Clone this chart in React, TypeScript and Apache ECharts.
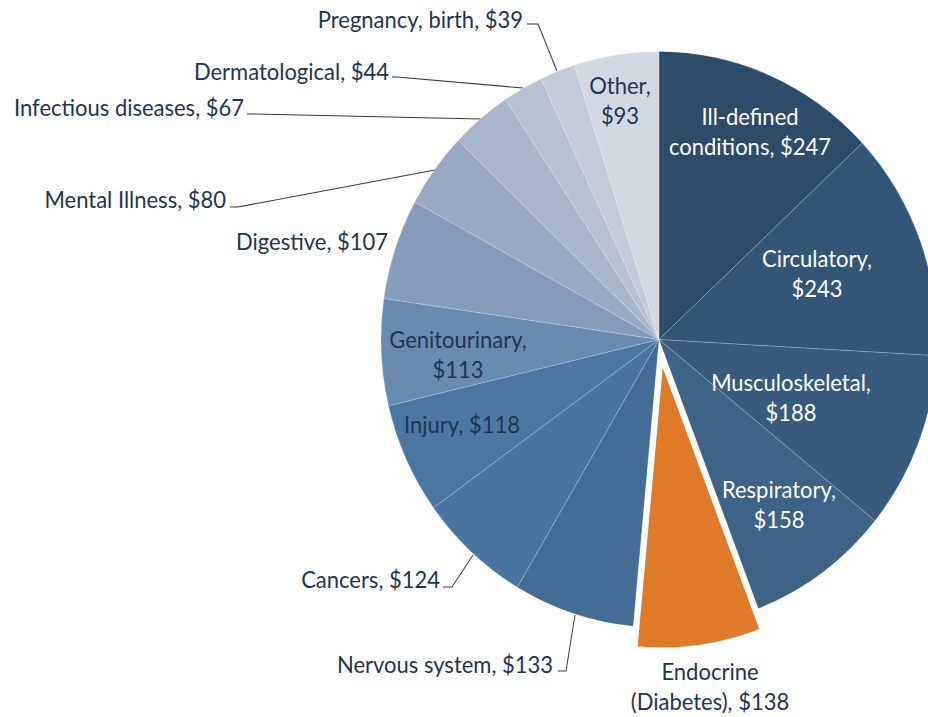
import { useEffect, useRef } from "react";
import * as echarts from "echarts";

// ---- data ----
const categories = [
  "Ill-defined conditions",
  "Circulatory",
  "Musculoskeletal",
  "Respiratory",
  "Endocrine (Diabetes)",
  "Nervous system",
  "Cancers",
  "Injury",
  "Genitourinary",
  "Digestive",
  "Mental Illness",
  "Infectious diseases",
  "Dermatological",
  "Pregnancy, birth",
  "Other",
];
const values = [247, 243, 188, 158, 138, 133, 124, 118, 113, 107, 80, 67, 44, 39, 93];
const highlighted = "Endocrine (Diabetes)";

// ---- styling / layout ----
const colors = [
  "#2E4B68", "#345676", "#385B7D", "#3D6386", "#DF7B28",
  "#436D94", "#4A77A2", "#4B78A3", "#6A8BB0", "#879CBA",
  "#9AAAC2", "#A9B6CA", "#B6C1D3", "#C4CCDA", "#D3D9E3",
];
const whiteText = [true, true, true, true, false, false, false, false, false, false, false, false, false, false, false];
// how each label is broken into lines: "name" = after first word, "comma" = before value, "none" = one line
const labelBreak = ["name", "comma", "comma", "comma", "name", "none", "none", "none", "comma", "none", "none", "none", "none", "none", "comma"];
// label anchor points (page pixels) and alignment
const labelAnchor: [number, number, "center" | "right"][] = [
  [750, 131, "center"],
  [817, 273, "center"],
  [791, 397, "center"],
  [779, 504, "center"],
  [710, 686, "center"],
  [553, 664, "right"],
  [440, 579, "right"],
  [462, 424, "center"],
  [458, 354, "center"],
  [388, 241, "right"],
  [226, 199, "right"],
  [244, 107, "right"],
  [389, 71, "right"],
  [523, 19, "right"],
  [620, 100, "center"],
];
// leader lines (page pixels) for outside labels
const leader: (number[][] | null)[] = [
  null, null, null, null, null,
  [[575, 615], [566, 671], [558, 671]],
  [[473, 555], [452, 587], [443, 587]],
  null, null, null,
  [[435, 170], [238, 207], [230, 207]],
  [[481, 119], [252, 114], [247, 114]],
  [[523, 88], [397, 77], [392, 77]],
  [[557, 71], [538, 24], [527, 24]],
  null,
];

const SY = 1.036; // vertical stretch of the picture
const W = 928;
const H = Math.round(717 / SY);
const CX = 659;
const CY = 339.5 / SY;
const R = 278;
const EXPLODE = 21;

function labelText(i: number): string {
  const name = categories[i];
  const v = "$" + values[i];
  if (labelBreak[i] === "name") {
    const k = name.indexOf(" ");
    return name.slice(0, k) + "\n" + name.slice(k + 1) + ", " + v;
  }
  if (labelBreak[i] === "comma") return name + ",\n" + v;
  return name + ", " + v;
}

export default function App() {
  const ref = useRef<HTMLDivElement>(null);
  useEffect(() => {
    const chart = echarts.init(ref.current!, null, { renderer: "svg" });
    const hiIdx = categories.indexOf(highlighted);
    const total = values.reduce((a, b) => a + b, 0);
    const before = values.slice(0, hiIdx).reduce((a, b) => a + b, 0);
    const mid = ((before + values[hiIdx] / 2) / total) * 2 * Math.PI;
    const ox = EXPLODE * Math.sin(mid);
    const oy = -EXPLODE * Math.cos(mid);

    const hidden = {
      itemStyle: { color: "rgba(0,0,0,0)", borderWidth: 0 },
      label: { show: false },
      labelLine: { show: false },
    };

    const dataMain = categories.map((name, i) =>
      i === hiIdx
        ? { name, value: values[i], ...hidden }
        : {
            name,
            value: values[i],
            itemStyle: {
              color: colors[i],
              borderColor: "rgba(255,255,255,0.3)",
              borderWidth: 0.6,
            },
            label: { color: whiteText[i] ? "#ffffff" : "#1F3550" },
            labelLine: { show: leader[i] != null },
          }
    );
    const dataHi = categories.map((name, i) =>
      i === hiIdx
        ? {
            name,
            value: values[i],
            itemStyle: { color: colors[i], borderColor: "#ffffff", borderWidth: 3 },
            label: { color: "#1F3550" },
            labelLine: { show: false },
          }
        : { name, value: values[i], ...hidden }
    );

    const common = {
      type: "pie",
      radius: [0, R],
      startAngle: 90,
      clockwise: true,
      avoidLabelOverlap: false,
      silent: true,
      emphasis: { disabled: true },
      label: {
        show: true,
        position: "outside",
        fontFamily: "Lato",
        fontSize: 22,
        lineHeight: 29,
        formatter: (p: any) => labelText(p.dataIndex),
      },
      labelLine: {
        show: false,
        lineStyle: { color: "#3A3A3A", width: 1 },
      },
      labelLayout: (p: any) => {
        const i = p.dataIndex;
        const a = labelAnchor[i];
        const out: any = {
          x: a[0],
          y: a[1] / SY,
          align: a[2],
          verticalAlign: "middle",
        };
        const l = leader[i];
        if (l) out.labelLinePoints = l.map((pt) => [pt[0], pt[1] / SY]);
        return out;
      },
    };

    chart.setOption({
      animation: false,
      backgroundColor: "#ffffff",
      series: [
        { ...common, center: [CX, CY], data: dataMain },
        { ...common, center: [CX + ox, CY + oy], data: dataHi },
      ],
    });
    return () => chart.dispose();
  }, []);
  return (
    <div
      ref={ref}
      style={{
        position: "fixed",
        left: 0,
        top: 0,
        width: W,
        height: H,
        transform: `scaleY(${SY})`,
        transformOrigin: "0 0",
        background: "#ffffff",
      }}
    />
  );
}
